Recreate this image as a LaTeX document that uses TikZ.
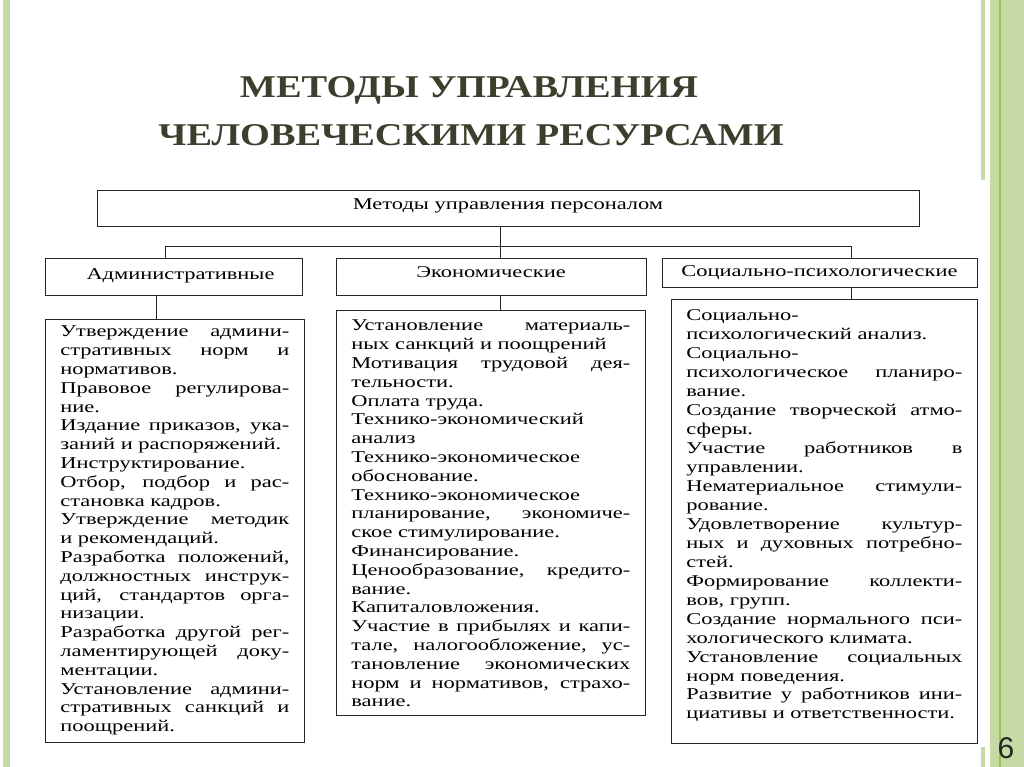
\documentclass[tikz,border=0pt]{standalone}
\usepackage{fontspec}
\setmainfont{Liberation Serif}
\newfontfamily\bodyfont[FakeStretch=1.36]{Liberation Serif}
\newfontfamily\titlefont[FakeStretch=1.21]{Liberation Serif}
\newfontfamily\pagefont{Liberation Sans}
\usetikzlibrary{positioning,calc}

\definecolor{barGreen}{RGB}{197,218,165}
\definecolor{lineGreen}{RGB}{150,196,72}
\definecolor{titleGray}{RGB}{62,62,46}

% justified line of a column, and a column of fixed size
\newcommand{\jl}[1]{\makebox[\linewidth][s]{#1}\\}
\newcommand{\colbox}[4]{\parbox[c][#1][t]{#2}{\bodyfont\fontsize{16.5}{#3}\selectfont #4}}

\begin{document}
\begin{tikzpicture}[x=1pt, y=-1pt,
    hdr/.style={draw=black!85, line width=0.7pt, inner sep=0pt, minimum height=37pt, font=\bodyfont\fontsize{16.5}{19}\selectfont},
    listbox/.style={draw=black!85, line width=0.7pt, inner xsep=15pt, inner ysep=0pt, anchor=north west},
    heading/.style={font=\titlefont\bfseries\fontsize{31.7}{38}\selectfont, text=titleGray, anchor=base},
    wire/.style={draw=black!85, line width=0.7pt}
]
\useasboundingbox (0,0) rectangle (1024,767);

% Side bars
\fill[barGreen] (3,0) rectangle (10,767);
\fill[barGreen] (981,0) rectangle (985,180);
\fill[barGreen] (981,747) rectangle (985,767);
\fill[barGreen] (990,0) rectangle (1024,767);
\fill[lineGreen] (999.3,0) rectangle (1000.7,767);

% Title
\node[heading] (title1) at (469,98) {МЕТОДЫ УПРАВЛЕНИЯ};
\node[heading] (title2) at (471,146) {ЧЕЛОВЕЧЕСКИМИ РЕСУРСАМИ};

% Nodes
\node[hdr, minimum width=822pt, minimum height=36pt] (top) at (508,208) {\raisebox{7pt}{Методы управления персоналом}};
\node[hdr, minimum width=257pt] (admin) at (173.5,276.5) {\raisebox{4pt}{\hspace*{14pt}Административные}};
\node[hdr, minimum width=310pt] (econ) at (491,276.5) {\raisebox{9pt}{Экономические}};
\node[hdr, minimum width=315pt, minimum height=29pt] (social) at (819.5,272.5) {\raisebox{1pt}{Социально-психологические}};

\node[listbox] (admintxt) at (45,319) {\colbox{423pt}{229pt}{18.8pt}{\vspace*{6.7pt}%
\jl{Утверждение админи-}
\jl{стративных норм и}
нормативов.\\
\jl{Правовое регулирова-}
ние.\\
\jl{Издание приказов, ука-}
заний и распоряжений.\\
Инструктирование.\\
\jl{Отбор, подбор и рас-}
становка кадров.\\
\jl{Утверждение методик}
и рекомендаций.\\
\jl{Разработка положений,}
\jl{должностных инструк-}
\jl{ций, стандартов орга-}
низации.\\
\jl{Разработка другой рег-}
\jl{ламентирующей доку-}
ментации.\\
\jl{Установление админи-}
\jl{стративных санкций и}
поощрений.}};

\node[listbox] (econtxt) at (336,310) {\colbox{405pt}{279pt}{18.8pt}{\vspace*{9.7pt}%
\jl{Установление материаль-}
ных санкций и поощрений\\
\jl{Мотивация трудовой дея-}
тельности.\\
Оплата труда.\\
Технико-экономический\\
анализ\\
Технико-экономическое\\
обоснование.\\
Технико-экономическое\\
\jl{планирование, экономиче-}
ское стимулирование.\\
Финансирование.\\
\jl{Ценообразование, кредито-}
вание.\\
Капиталовложения.\\
\jl{Участие в прибылях и капи-}
\jl{тале, налогообложение, ус-}
\jl{тановление экономических}
\jl{норм и нормативов, страхо-}
вание.}};

\node[listbox] (socialtxt) at (671,299) {\colbox{444pt}{276pt}{18.95pt}{\vspace*{10.7pt}%
Социально-\\
психологический анализ.\\
Социально-\\
\jl{психологическое планиро-}
вание.\\
\jl{Создание творческой атмо-}
сферы.\\
\jl{Участие работников в}
управлении.\\
\jl{Нематериальное стимули-}
рование.\\
\jl{Удовлетворение культур-}
\jl{ных и духовных потребно-}
стей.\\
\jl{Формирование коллекти-}
вов, групп.\\
\jl{Создание нормального пси-}
хологического климата.\\
\jl{Установление социальных}
норм поведения.\\
\jl{Развитие у работников ини-}
циативы и ответственности.}};

% Page number
\node[font=\pagefont\fontsize{30}{30}\selectfont, text=black!85] (pagenum) at (1006,748) {6};

% Connectors
\coordinate (hubL) at (165,246);
\coordinate (hubM) at (500,246);
\coordinate (hubR) at (851,246);
\draw[wire] (top.south -| hubM) -- (econ.north -| hubM);
\draw[wire] (admin.north -| hubL) -- (hubL) -- (hubR) -- (social.north -| hubR);
\draw[wire] ([xshift=-17.5pt]admin.south) -- ([xshift=-17.5pt]admin.south |- admintxt.north);
\draw[wire] (econ.south -| hubM) -- (econtxt.north -| hubM);
\draw[wire] (social.south -| hubR) -- (socialtxt.north -| hubR);

\end{tikzpicture}
\end{document}
